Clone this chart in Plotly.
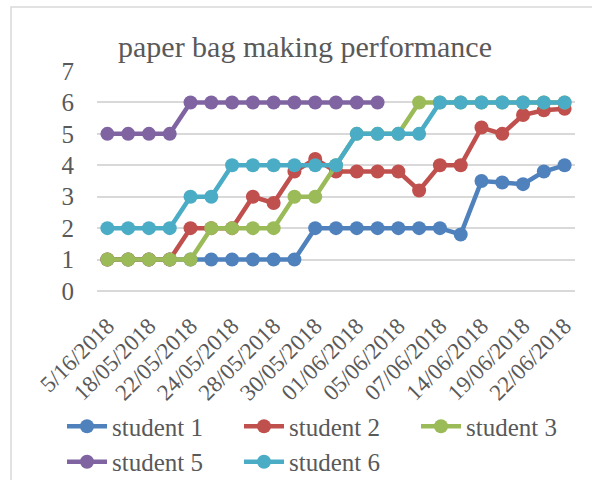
import plotly.graph_objects as go

# category index (23 observation points), labels shown on every other one
points = list(range(23))
tick_positions = list(range(0, 23, 2))
tick_labels = ["5/16/2018", "18/05/2018", "22/05/2018", "24/05/2018", "28/05/2018",
               "30/05/2018", "01/06/2018", "05/06/2018", "07/06/2018", "14/06/2018",
               "19/06/2018", "22/06/2018"]

student1 = [1, 1, 1, 1, 1, 1, 1, 1, 1, 1, 2, 2, 2, 2, 2, 2, 2, 1.8, 3.5, 3.45, 3.4, 3.8, 4]
student2 = [1, 1, 1, 1, 2, 2, 2, 3, 2.8, 3.8, 4.2, 3.8, 3.8, 3.8, 3.8, 3.2, 4, 4, 5.2, 5, 5.6, 5.75, 5.8]
student3 = [1, 1, 1, 1, 1, 2, 2, 2, 2, 3, 3, 4, 5, 5, 5, 6, 6, 6, 6, 6, 6, 6, 6]
student5 = [5, 5, 5, 5, 6, 6, 6, 6, 6, 6, 6, 6, 6, 6, None, None, None, None, None, None, None, None, None]
student6 = [2, 2, 2, 2, 3, 3, 4, 4, 4, 4, 4, 4, 5, 5, 5, 5, 6, 6, 6, 6, 6, 6, 6]

series_names = ["student 1", "student 2", "student 3", "student 5", "student 6"]
series_values = [student1, student2, student3, student5, student6]
colors = ["#4F81BD", "#C0504D", "#9BBB59", "#8064A2", "#4BACC6"]

FONT = "Liberation Serif"
TXT = "#595959"
FS = 25

PL, PR, PT, PB = 97, 575, 71, 290.7
PW, PH = PR - PL, PB - PT

fig = go.Figure()
for name, vals, col in zip(series_names, series_values, colors):
    fig.add_trace(go.Scatter(
        x=points, y=vals, name=name, mode="lines+markers",
        line=dict(color=col, width=4.5),
        marker=dict(color=col, size=14),
        connectgaps=False,
    ))

fig.update_layout(
    width=592, height=480,
    margin=dict(l=PL, r=592 - PR, t=PT, b=480 - PB, autoexpand=False),
    paper_bgcolor="white", plot_bgcolor="white",
    font=dict(family=FONT, color=TXT, size=FS),
    title=dict(text="paper bag making performance", x=305/592, xanchor="center",
               y=1 - 46/480, yanchor="middle", font=dict(size=30, color=TXT, family=FONT)),
    showlegend=True,
    legend=dict(orientation="h", x=(62 - PL) / PW, xanchor="left",
                y=(PB - 403) / PH, yanchor="top",
                entrywidth=122, entrywidthmode="pixels",
                font=dict(size=FS, color=TXT, family=FONT), tracegroupgap=0,
                itemwidth=40),
    shapes=[dict(type="rect", xref="paper", yref="paper",
                 x0=(11 - PL) / PW, x1=(620 - PL) / PW,
                 y0=-1.0, y1=(PB - 7) / PH,
                 line=dict(color="#D9D9D9", width=1.5), fillcolor="rgba(0,0,0,0)",
                 layer="below")],
)

fig.update_xaxes(
    range=[-0.5, 22.5], tickmode="array", tickvals=tick_positions, ticktext=tick_labels,
    tickangle=-45, showgrid=False, zeroline=False, showline=False, ticks="",
    automargin=False,
    ticklabelstandoff=16, tickfont=dict(size=23, color=TXT, family=FONT),
)
fig.update_yaxes(
    range=[0, 7], dtick=1, showgrid=True, gridcolor="#D9D9D9", gridwidth=1.5,
    zeroline=True, zerolinecolor="#D9D9D9", zerolinewidth=1.5, showline=False, ticks="",
    automargin=False,
    ticklabelstandoff=22, tickfont=dict(size=FS, color=TXT, family=FONT),
)

fig.write_html("out.html")
